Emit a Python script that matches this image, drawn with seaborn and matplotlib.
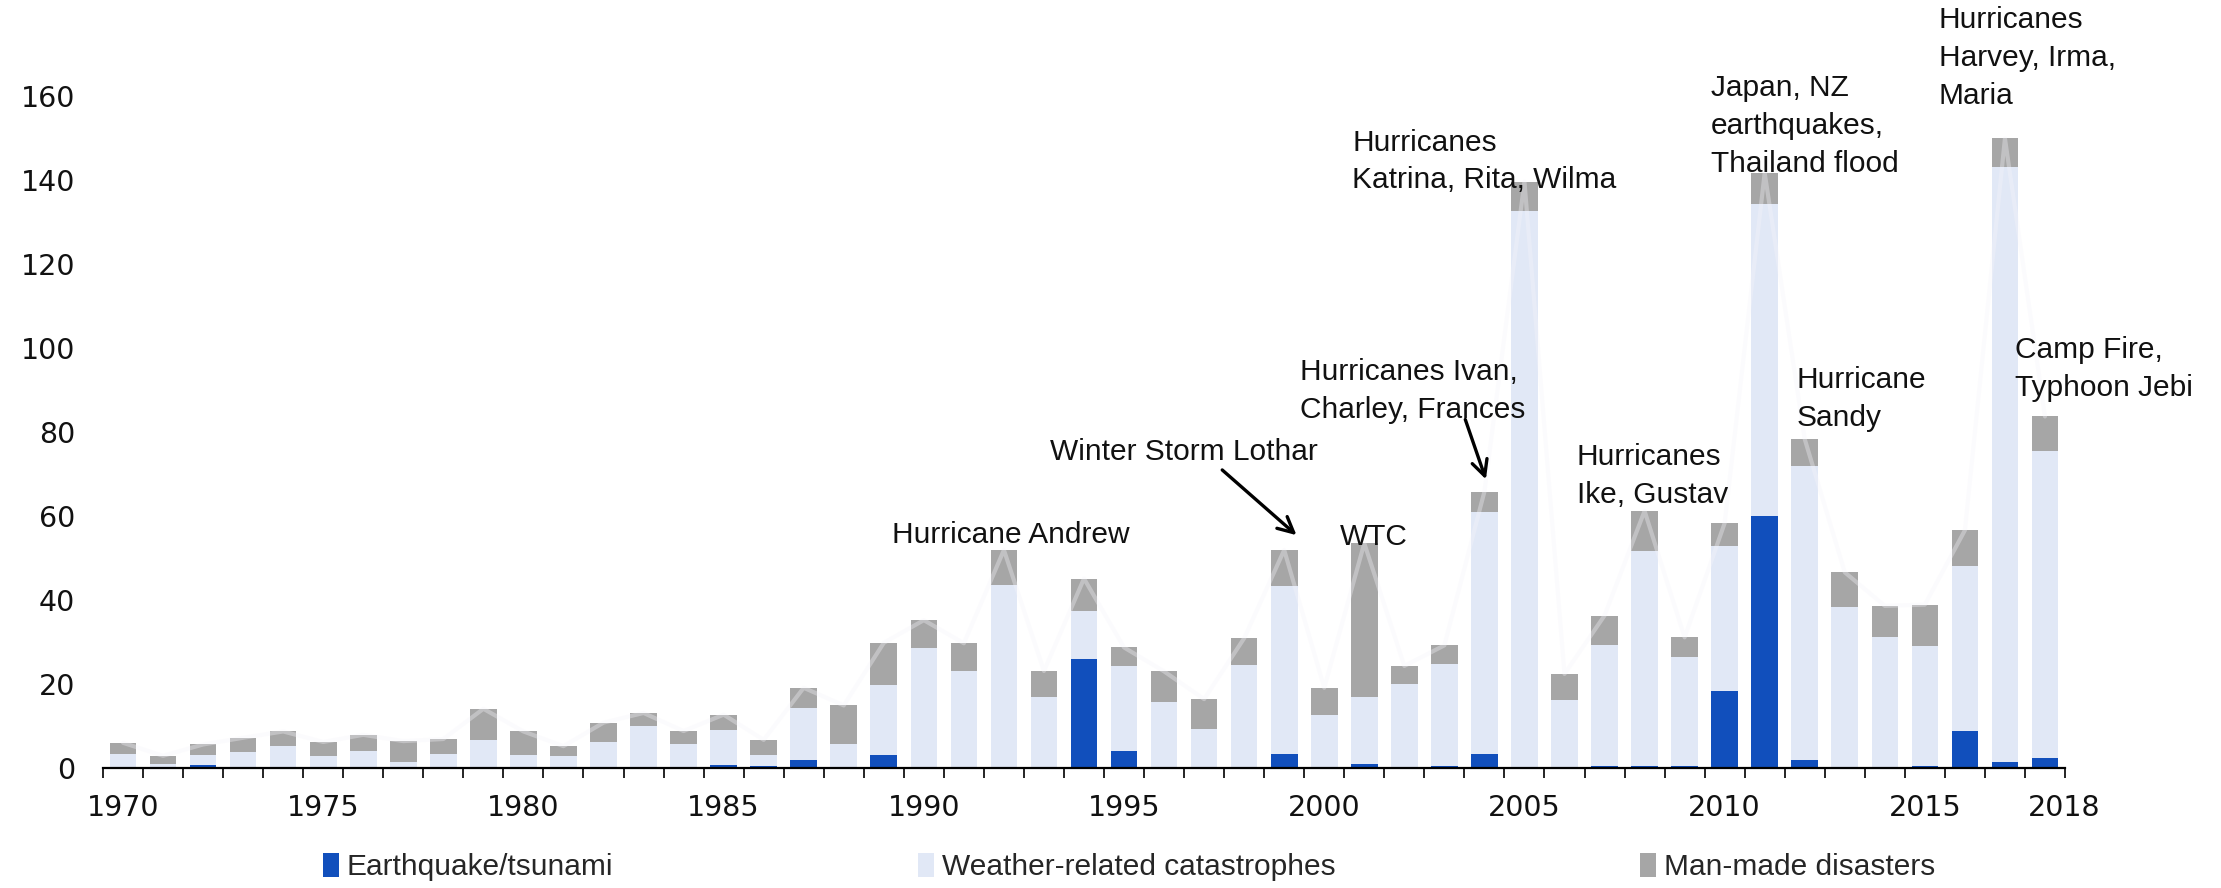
"""
Insured catastrophe losses 1970-2018, stacked by event type, with major events annotated.
"""

import numpy as np
import pandas as pd
import seaborn as sns
import matplotlib.pyplot as plt
from matplotlib.patches import Patch

# ============================================================================
# Data
# ============================================================================
YEARS = list(range(1970, 2019))

EARTHQUAKE = [
    0.0, 0.0, 0.7, 0.0, 0.0, 0.0, 0.3, 0.0, 0.0, 0.0,
    0.0, 0.0, 0.0, 0.0, 0.0, 0.7, 0.4, 2.0, 0.0, 3.2,
    0.3, 0.0, 0.0, 0.3, 25.9, 4.1, 0.0, 0.0, 0.0, 3.4,
    0.0, 0.9, 0.0, 0.5, 3.4, 0.2, 0.0, 0.5, 0.5, 0.5,
    18.4, 60.1, 1.8, 0.0, 0.2, 0.5, 8.9, 1.4, 2.3,
]
WEATHER = [
    3.3, 1.0, 2.3, 3.7, 5.3, 2.9, 3.7, 1.5, 3.3, 6.6,
    3.0, 2.8, 6.3, 10.0, 5.7, 8.3, 2.6, 12.3, 5.7, 16.5,
    28.2, 23.0, 43.6, 16.7, 11.4, 20.2, 15.6, 9.4, 24.5, 39.9,
    12.6, 16.0, 20.1, 24.3, 57.5, 132.5, 16.1, 28.7, 51.1, 26.0,
    34.4, 74.2, 70.1, 38.4, 30.9, 28.5, 39.3, 141.8, 73.1,
]
MAN_MADE = [
    2.7, 1.9, 2.6, 3.5, 3.4, 3.3, 3.9, 4.9, 3.6, 7.5,
    5.7, 2.4, 4.5, 3.1, 3.1, 3.7, 3.7, 4.8, 9.2, 10.1,
    6.7, 6.7, 8.3, 6.1, 7.8, 4.4, 7.4, 7.0, 6.4, 8.6,
    6.5, 36.6, 4.2, 4.4, 4.9, 6.9, 6.3, 7.1, 9.6, 4.6,
    5.5, 7.4, 6.4, 8.2, 7.5, 9.9, 8.4, 6.7, 8.3,
]

LABEL_YEARS = [1970, 1975, 1980, 1985, 1990, 1995, 2000, 2005, 2010, 2015, 2018]
Y_TICKS = [0, 20, 40, 60, 80, 100, 120, 140, 160]

SERIES_NAMES = ['Earthquake/tsunami', 'Weather-related catastrophes', 'Man-made disasters']
COLORS = ['#114fbc', '#e1e8f6', '#a6a6a6']

# event annotations: (text, year position, y centre)
EVENTS = [
    ('Hurricane Andrew', 19.2, 55.4),
    ('Winter Storm Lothar', 23.15, 75.3),
    ('WTC', 30.4, 55.0),
    ('Hurricanes Ivan,\nCharley, Frances', 29.4, 89.8),
    ('Hurricanes\nKatrina, Rita, Wilma', 30.7, 144.4),
    ('Hurricanes\nIke, Gustav', 36.3, 69.6),
    ('Japan, NZ\nearthquakes,\nThailand flood', 39.65, 152.9),
    ('Hurricane\nSandy', 41.8, 87.8),
    ('Hurricanes\nHarvey, Irma,\nMaria', 45.35, 169.1),
    ('Camp Fire,\nTyphoon Jebi', 47.25, 94.9),
]
# arrows: (start x, start y, tip x, tip y)
ARROWS = [
    (27.4, 71.4, 29.36, 55.0),
    (33.5, 83.6, 34.06, 68.1),
]

# ============================================================================
# Build frame
# ============================================================================
df = pd.DataFrame({
    'Year': [str(y) for y in YEARS],
    'eq': EARTHQUAKE,
    'weather': WEATHER,
    'manmade': MAN_MADE,
})
df['lvl1'] = df['eq']
df['lvl2'] = df['eq'] + df['weather']
df['lvl3'] = df['lvl2'] + df['manmade']

sns.set_theme(style='white')
plt.rcParams['font.family'] = ['Liberation Sans', 'DejaVu Sans']
FS = 21.5

fig = plt.figure(figsize=(22.21, 8.88), dpi=100)
ax = fig.add_axes([103 / 2221, 120 / 888, (2065 - 103) / 2221, 1 - 120 / 888])

order = df['Year'].tolist()
# stacked bars: draw the cumulative heights from tallest down
for col, color in zip(['lvl3', 'lvl2', 'lvl1'], COLORS[::-1]):
    sns.barplot(data=df, x='Year', y=col, order=order, color=color,
                width=0.665, errorbar=None, saturation=1, linewidth=0, ax=ax)

# faint total line
sns.lineplot(x=np.arange(len(df)), y=df['lvl3'].values, color='#f6f4fa',
             lw=3, alpha=0.35, ax=ax, zorder=3)

ax.set_xlim(-0.5, len(df) - 0.5)
ax.set_ylim(0, 768 / 4.2)
ax.set_xlabel('')
ax.set_ylabel('')

# axes styling
for side in ['left', 'top', 'right']:
    ax.spines[side].set_visible(False)
ax.spines['bottom'].set_color('black')
ax.spines['bottom'].set_linewidth(1.6)

ax.set_yticks(Y_TICKS)
ax.set_yticklabels([str(v) for v in Y_TICKS], fontsize=20.5, color='#111111',
                   family='DejaVu Sans')
ax.tick_params(axis='y', length=0, pad=20)

pos = [YEARS.index(y) for y in LABEL_YEARS]
pos[-1] = len(df) - 0.51
ax.set_xticks(pos)
ax.set_xticklabels([str(y) for y in LABEL_YEARS], fontsize=20.5, color='#111111',
                   family='DejaVu Sans')
ax.set_xticks(np.arange(-0.5, len(df), 1.0), minor=True)
ax.tick_params(axis='x', which='major', length=0, pad=19)
ax.tick_params(axis='x', which='minor', length=7.5, width=1.2, color='black',
               bottom=True)

# annotations
for text, x, y in EVENTS:
    ax.text(x, y, text, fontsize=FS, ha='left', va='center', color='#111111',
            linespacing=1.45, zorder=5)
for x0, y0, x1, y1 in ARROWS:
    ax.annotate('', xy=(x1, y1), xytext=(x0, y0),
                arrowprops=dict(arrowstyle='->', lw=2.4, color='black',
                                mutation_scale=28), zorder=5)

# legend
handles = [Patch(facecolor=c, edgecolor='none') for c in COLORS]
fig.legend(handles, SERIES_NAMES, loc='center left',
           bbox_to_anchor=(323 / 2221, 1 - 867 / 888), ncol=3, frameon=False,
           fontsize=FS, handlelength=0.55, handleheight=0.9, handletextpad=0.25,
           columnspacing=10.2, borderpad=0, borderaxespad=0)

fig.savefig('out.png', dpi=100)
